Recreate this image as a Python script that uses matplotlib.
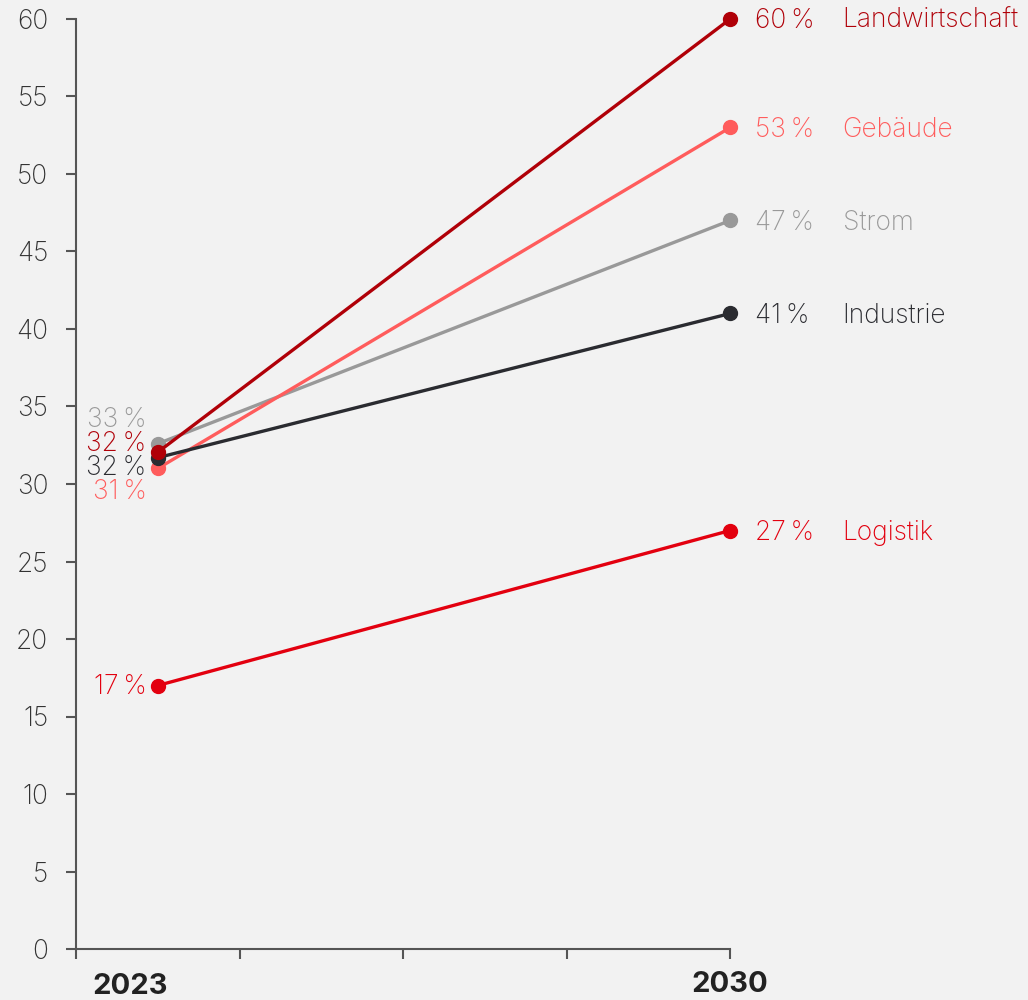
import matplotlib
matplotlib.use("Agg")
import matplotlib.pyplot as plt

plt.rcParams["font.family"] = ["Inter", "DejaVu Sans"]

BG = "#f2f2f2"
AXIS = "#555555"

# ---- data ----
years = [2023, 2030]
sectors = ["Strom", "Gebäude", "Industrie", "Landwirtschaft", "Logistik"]
start_vals = [32.6, 31.0, 31.7, 32.05, 17.0]
end_vals = [47, 53, 41, 60, 27]
start_labels = ["33\u202f%", "31\u202f%", "32\u202f%", "32\u202f%", "17\u202f%"]
end_labels = ["47\u202f%", "53\u202f%", "41\u202f%", "60\u202f%", "27\u202f%"]
colors = ["#999999", "#ff5c5c", "#2a2b30", "#b00008", "#e3000f"]
# label heights for the crowded 2023 labels (layout only)
start_label_y = [34.2, 29.6, 31.15, 32.7, 17.0]

fig = plt.figure(figsize=(10.28, 10.0), dpi=100, facecolor=BG)
ax = fig.add_axes([0.0739, 0.051, 0.6364, 0.930], facecolor=BG)

FS = 19
for name, s, e, sl, el, c, ly in zip(sectors, start_vals, end_vals,
                                     start_labels, end_labels, colors, start_label_y):
    ax.plot(years, [s, e], "-o", color=c, lw=2.4, ms=10, zorder=3, clip_on=False)
    ax.annotate(sl, (years[0], ly), textcoords="offset points", xytext=(-8, -1),
                ha="right", va="center", color=c, fontsize=FS, fontweight="light")
    ax.annotate(el, (years[1], e), textcoords="offset points", xytext=(18, -1.5),
                ha="left", va="center", color=c, fontsize=FS, fontweight="light")
    ax.annotate(name, (years[1], e), textcoords="offset points", xytext=(81, -1.5),
                ha="left", va="center", color=c, fontsize=FS, fontweight="light")

ax.set_xlim(2022, 2030)
ax.set_ylim(0, 60)
ax.set_yticks(range(0, 61, 5))
ax.set_xticks([2022, 2024, 2026, 2028, 2030])
ax.set_xticklabels([])
ax.tick_params(axis="y", length=7, width=1.5, color=AXIS, labelsize=FS,
               labelcolor="#333333", pad=13)
for lab in ax.get_yticklabels():
    lab.set_fontweight("light")
ax.tick_params(axis="x", length=7, width=1.5, color=AXIS)
for side in ("top", "right"):
    ax.spines[side].set_visible(False)
for side in ("left", "bottom"):
    ax.spines[side].set_color(AXIS)
    ax.spines[side].set_linewidth(1.5)

ax.text(2022.66, -2.45, "2023", ha="center", va="center", fontsize=21,
        fontweight="bold", color="#222222")
ax.text(2030, -2.3, "2030", ha="center", va="center", fontsize=21,
        fontweight="bold", color="#222222")

fig.savefig("out.png", dpi=100, facecolor=BG)
